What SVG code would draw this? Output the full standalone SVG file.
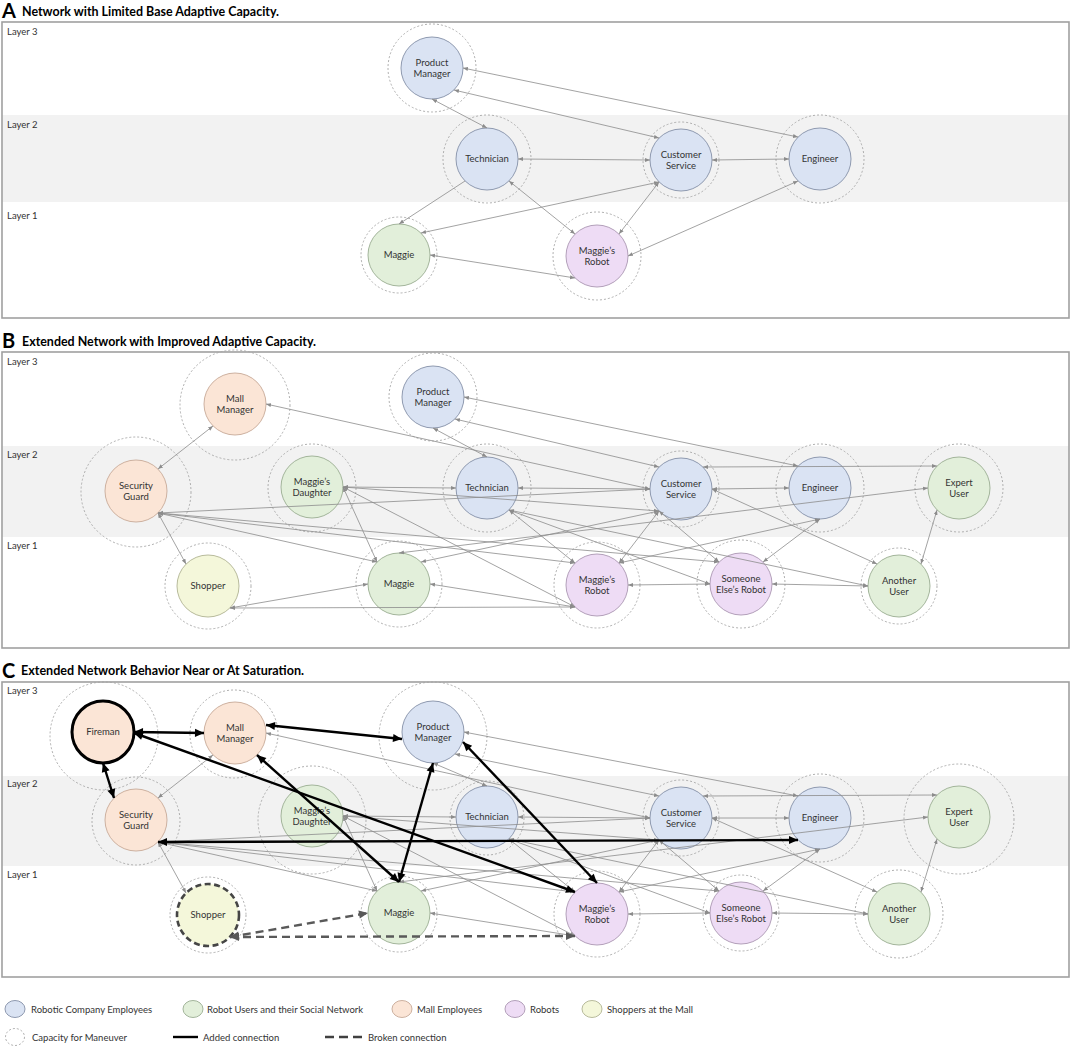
<svg xmlns="http://www.w3.org/2000/svg" width="1072" height="1048" viewBox="0 0 1072 1048">
<style>
.bg{fill:#fff}
.frame{fill:none;stroke:#a0a0a0;stroke-width:1.6}
.band{fill:#f2f2f2}
.cap{fill:none;stroke:#a6a6a6;stroke-width:0.9;stroke-dasharray:2 2}
.blue{fill:#dae3f3;stroke:#8f9ab0;stroke-width:1}
.green{fill:#e2efda;stroke:#a3b59b;stroke-width:1}
.orange{fill:#fbe5d6;stroke:#cdb1a0;stroke-width:1}
.purple{fill:#eedcf5;stroke:#b3a0ba;stroke-width:1}
.yellow{fill:#f4f7da;stroke:#b8bb9c;stroke-width:1}
.fire{stroke:#000;stroke-width:3}
.shop{stroke:#454545;stroke-width:2.6;stroke-dasharray:6 3.5}
text{font-family:Lato,"Open Sans","Liberation Sans",sans-serif;fill:#333}
.lbl{font-size:9.5px;text-anchor:middle}
.layer{font-size:9.5px}
.leg{font-size:9.5px}
.tl{font-size:20px;font-weight:bold;fill:#000}
.tt{font-size:13.5px;font-weight:bold;fill:#000}
.e{stroke:#8c8c8c;stroke-width:0.8;fill:none;marker-start:url(#a);marker-end:url(#a)}
.e1{stroke:#8c8c8c;stroke-width:0.8;fill:none;marker-end:url(#a)}
.b{stroke:#000;stroke-width:2.4;fill:none;marker-start:url(#ab);marker-end:url(#ab)}
.d{stroke:#595959;stroke-width:2.4;fill:none;stroke-dasharray:8 5;marker-start:url(#ad);marker-end:url(#ad)}
</style>
<defs>
<marker id="a" viewBox="0 0 10 10" refX="10" refY="5" markerWidth="5" markerHeight="5" markerUnits="userSpaceOnUse" orient="auto-start-reverse"><path d="M0,1 L10,5 L0,9 z" fill="#8c8c8c"/></marker>
<marker id="ab" viewBox="0 0 10 10" refX="10" refY="5" markerWidth="10" markerHeight="9" markerUnits="userSpaceOnUse" orient="auto-start-reverse"><path d="M0,0.5 L10,5 L0,9.5 z" fill="#000"/></marker>
<marker id="ad" viewBox="0 0 10 10" refX="10" refY="5" markerWidth="10" markerHeight="9" markerUnits="userSpaceOnUse" orient="auto-start-reverse"><path d="M0,0.5 L10,5 L0,9.5 z" fill="#595959"/></marker>
</defs>
<rect class="bg" x="0" y="0" width="1072" height="1048"/>

<!-- ===== Panel A ===== -->
<g id="panelA">
<text class="tl" x="2" y="18">A</text>
<text class="tt" x="22" y="16" textLength="257" lengthAdjust="spacingAndGlyphs">Network with Limited Base Adaptive Capacity.</text>
<rect class="band" x="2" y="115" width="1067" height="87"/>
<rect class="frame" x="2" y="22" width="1067" height="296"/>
<text class="layer" x="7" y="35">Layer 3</text>
<text class="layer" x="7" y="128">Layer 2</text>
<text class="layer" x="7" y="219">Layer 1</text>
</g>
<g id="A-nodes">
<g id="A-pm"><circle class="cap" cx="432" cy="68" r="44"/><circle class="blue" cx="432" cy="68" r="31"/><text class="lbl" x="432" y="65.5">Product</text><text class="lbl" x="432" y="77.2">Manager</text></g>
<g id="A-tech"><circle class="cap" cx="487" cy="159" r="44"/><circle class="blue" cx="487" cy="159" r="31"/><text class="lbl" x="487" y="162.3">Technician</text></g>
<g id="A-cs"><circle class="cap" cx="681" cy="160" r="38"/><circle class="blue" cx="681" cy="160" r="31"/><text class="lbl" x="681" y="157.5">Customer</text><text class="lbl" x="681" y="169.2">Service</text></g>
<g id="A-eng"><circle class="cap" cx="820" cy="159" r="44"/><circle class="blue" cx="820" cy="159" r="31"/><text class="lbl" x="820" y="162.3">Engineer</text></g>
<g id="A-maggie"><circle class="cap" cx="399" cy="255" r="38"/><circle class="green" cx="399" cy="255" r="31"/><text class="lbl" x="399" y="258.3">Maggie</text></g>
<g id="A-robot"><circle class="cap" cx="597" cy="256" r="44"/><circle class="purple" cx="597" cy="256" r="31"/><text class="lbl" x="597" y="253.5">Maggie’s</text><text class="lbl" x="597" y="265.2">Robot</text></g>
</g>
<g id="A-connectors">
<line class="e" x1="432" y1="99" x2="487" y2="128"/>
<line class="e" x1="463" y1="68" x2="798" y2="137"/>
<line class="e" x1="454" y1="90" x2="659" y2="138"/>
<line class="e" x1="518" y1="159" x2="650" y2="160"/>
<line class="e" x1="712" y1="160" x2="789" y2="159"/>
<line class="e1" x1="465" y1="181" x2="399" y2="224"/>
<line class="e" x1="509" y1="181" x2="575" y2="234"/>
<line class="e" x1="659" y1="182" x2="421" y2="233"/>
<line class="e" x1="659" y1="182" x2="619" y2="234"/>
<line class="e" x1="798" y1="181" x2="628" y2="256"/>
<line class="e" x1="430" y1="255" x2="575" y2="278"/>
</g>

<!-- ===== Panel B ===== -->
<g id="panelB">
<text class="tl" x="2" y="348">B</text>
<text class="tt" x="22" y="346" textLength="294" lengthAdjust="spacingAndGlyphs">Extended Network with Improved Adaptive Capacity.</text>
<rect class="band" x="2" y="446" width="1067" height="91"/>
<rect class="frame" x="2" y="352" width="1067" height="296"/>
<text class="layer" x="7" y="365">Layer 3</text>
<text class="layer" x="7" y="458">Layer 2</text>
<text class="layer" x="7" y="549">Layer 1</text>
</g>
<g id="B-nodes">
<g id="B-mm"><circle class="cap" cx="235" cy="405" r="55"/><circle class="orange" cx="235" cy="404" r="31"/><text class="lbl" x="235" y="401.5">Mall</text><text class="lbl" x="235" y="413.2">Manager</text></g>
<g id="B-pm"><circle class="cap" cx="433" cy="397" r="44"/><circle class="blue" cx="433" cy="397" r="31"/><text class="lbl" x="433" y="394.5">Product</text><text class="lbl" x="433" y="406.2">Manager</text></g>
<g id="B-sg"><circle class="cap" cx="136" cy="492" r="55"/><circle class="orange" cx="136" cy="491" r="31"/><text class="lbl" x="136" y="488.5">Security</text><text class="lbl" x="136" y="500.2">Guard</text></g>
<g id="B-md"><circle class="cap" cx="312" cy="488" r="44"/><circle class="green" cx="312" cy="487" r="31"/><text class="lbl" x="312" y="484.5">Maggie’s</text><text class="lbl" x="312" y="496.2">Daughter</text></g>
<g id="B-tech"><circle class="cap" cx="487" cy="488" r="44"/><circle class="blue" cx="487" cy="488" r="31"/><text class="lbl" x="487" y="491.3">Technician</text></g>
<g id="B-cs"><circle class="cap" cx="681" cy="489" r="38"/><circle class="blue" cx="681" cy="489" r="31"/><text class="lbl" x="681" y="486.5">Customer</text><text class="lbl" x="681" y="498.2">Service</text></g>
<g id="B-eng"><circle class="cap" cx="820" cy="488" r="44"/><circle class="blue" cx="820" cy="488" r="31"/><text class="lbl" x="820" y="491.3">Engineer</text></g>
<g id="B-eu"><circle class="cap" cx="959" cy="488" r="44"/><circle class="green" cx="959" cy="488" r="31"/><text class="lbl" x="959" y="485.5">Expert</text><text class="lbl" x="959" y="497.2">User</text></g>
<g id="B-shopper"><circle class="cap" cx="208" cy="586" r="43"/><circle class="yellow" cx="208" cy="586" r="31"/><text class="lbl" x="208" y="589.3">Shopper</text></g>
<g id="B-maggie"><circle class="cap" cx="399" cy="584" r="43"/><circle class="green" cx="399" cy="584" r="31"/><text class="lbl" x="399" y="587.3">Maggie</text></g>
<g id="B-robot"><circle class="cap" cx="597" cy="585" r="43"/><circle class="purple" cx="597" cy="585" r="31"/><text class="lbl" x="597" y="582.5">Maggie’s</text><text class="lbl" x="597" y="594.2">Robot</text></g>
<g id="B-ser"><circle class="cap" cx="741" cy="584" r="44"/><circle class="purple" cx="741" cy="584" r="31"/><text class="lbl" x="741" y="581.5">Someone</text><text class="lbl" x="741" y="593.2">Else’s Robot</text></g>
<g id="B-au"><circle class="cap" cx="899" cy="586" r="38"/><circle class="green" cx="899" cy="586" r="31"/><text class="lbl" x="899" y="583.5">Another</text><text class="lbl" x="899" y="595.2">User</text></g>
</g>
<g id="B-connectors">
<line class="e" x1="158" y1="469" x2="213" y2="426"/>
<line class="e" x1="158" y1="513" x2="186" y2="564"/>
<line class="e" x1="158" y1="513" x2="377" y2="562"/>
<line class="e" x1="158" y1="513" x2="575" y2="563"/>
<line class="e" x1="158" y1="513" x2="650" y2="489"/>
<line class="e" x1="158" y1="513" x2="719" y2="562"/>
<line class="e" x1="266" y1="404" x2="650" y2="489"/>
<line class="e" x1="433" y1="428" x2="487" y2="457"/>
<line class="e" x1="455" y1="419" x2="659" y2="467"/>
<line class="e" x1="464" y1="397" x2="798" y2="466"/>
<line class="e" x1="343" y1="487" x2="456" y2="488"/>
<line class="e" x1="343" y1="487" x2="659" y2="511"/>
<line class="e" x1="343" y1="487" x2="377" y2="562"/>
<line class="e" x1="343" y1="487" x2="575" y2="607"/>
<line class="e" x1="518" y1="488" x2="650" y2="489"/>
<line class="e" x1="509" y1="510" x2="575" y2="563"/>
<line class="e" x1="509" y1="510" x2="868" y2="586"/>
<line class="e" x1="509" y1="510" x2="710" y2="584"/>
<line class="e" x1="712" y1="489" x2="789" y2="488"/>
<line class="e" x1="703" y1="467" x2="937" y2="466"/>
<line class="e" x1="659" y1="511" x2="421" y2="562"/>
<line class="e" x1="659" y1="511" x2="619" y2="563"/>
<line class="e" x1="659" y1="511" x2="719" y2="562"/>
<line class="e" x1="712" y1="489" x2="877" y2="564"/>
<line class="e" x1="820" y1="519" x2="619" y2="563"/>
<line class="e" x1="820" y1="519" x2="763" y2="562"/>
<line class="e" x1="928" y1="488" x2="399" y2="553"/>
<line class="e" x1="937" y1="510" x2="921" y2="564"/>
<line class="e" x1="230" y1="608" x2="575" y2="607"/>
<line class="e" x1="230" y1="608" x2="368" y2="584"/>
<line class="e" x1="430" y1="584" x2="575" y2="607"/>
<line class="e" x1="628" y1="585" x2="710" y2="584"/>
<line class="e" x1="772" y1="584" x2="868" y2="586"/>
</g>

<!-- ===== Panel C ===== -->
<g id="panelC">
<text class="tl" x="2" y="678">C</text>
<text class="tt" x="21" y="675" textLength="283" lengthAdjust="spacingAndGlyphs">Extended Network Behavior Near or At Saturation.</text>
<rect class="band" x="2" y="776" width="1067" height="90"/>
<rect class="frame" x="2" y="682" width="1067" height="295"/>
<text class="layer" x="7" y="694">Layer 3</text>
<text class="layer" x="7" y="787">Layer 2</text>
<text class="layer" x="7" y="878">Layer 1</text>
</g>
<g id="C-nodes">
<g id="C-fireman"><circle class="cap" cx="104" cy="736" r="54"/><circle class="orange fire" cx="103" cy="732" r="31"/><text class="lbl" x="103" y="735.3">Fireman</text></g>
<g id="C-mm"><circle class="cap" cx="234" cy="734" r="44"/><circle class="orange" cx="235" cy="733" r="31"/><text class="lbl" x="235" y="730.5">Mall</text><text class="lbl" x="235" y="742.2">Manager</text></g>
<g id="C-pm"><circle class="cap" cx="433" cy="736" r="54"/><circle class="blue" cx="433" cy="732" r="31"/><text class="lbl" x="433" y="729.5">Product</text><text class="lbl" x="433" y="741.2">Manager</text></g>
<g id="C-sg"><circle class="cap" cx="136" cy="821" r="44"/><circle class="orange" cx="136" cy="820" r="31"/><text class="lbl" x="136" y="817.5">Security</text><text class="lbl" x="136" y="829.2">Guard</text></g>
<g id="C-md"><circle class="cap" cx="312" cy="820" r="54"/><circle class="green" cx="312" cy="816" r="31"/><text class="lbl" x="312" y="813.5">Maggie’s</text><text class="lbl" x="312" y="825.2">Daughter</text></g>
<g id="C-tech"><circle class="cap" cx="487" cy="818" r="37"/><circle class="blue" cx="487" cy="817" r="31"/><text class="lbl" x="487" y="820.3">Technician</text></g>
<g id="C-cs"><circle class="cap" cx="681" cy="818" r="38"/><circle class="blue" cx="681" cy="818" r="31"/><text class="lbl" x="681" y="815.5">Customer</text><text class="lbl" x="681" y="827.2">Service</text></g>
<g id="C-eng"><circle class="cap" cx="820" cy="818" r="44"/><circle class="blue" cx="820" cy="818" r="31"/><text class="lbl" x="820" y="821.3">Engineer</text></g>
<g id="C-eu"><circle class="cap" cx="959" cy="819" r="55"/><circle class="green" cx="959" cy="817" r="31"/><text class="lbl" x="959" y="814.5">Expert</text><text class="lbl" x="959" y="826.2">User</text></g>
<g id="C-shopper"><circle class="cap" cx="208" cy="915" r="38"/><circle class="yellow shop" cx="208" cy="915" r="31"/><text class="lbl" x="208" y="918.3">Shopper</text></g>
<g id="C-maggie"><circle class="cap" cx="399" cy="914" r="38"/><circle class="green" cx="399" cy="913" r="31"/><text class="lbl" x="399" y="916.3">Maggie</text></g>
<g id="C-robot"><circle class="cap" cx="597" cy="914" r="43"/><circle class="purple" cx="597" cy="914" r="31"/><text class="lbl" x="597" y="911.5">Maggie’s</text><text class="lbl" x="597" y="923.2">Robot</text></g>
<g id="C-ser"><circle class="cap" cx="741" cy="913" r="38"/><circle class="purple" cx="741" cy="913" r="31"/><text class="lbl" x="741" y="910.5">Someone</text><text class="lbl" x="741" y="922.2">Else’s Robot</text></g>
<g id="C-au"><circle class="cap" cx="899" cy="914" r="44"/><circle class="green" cx="899" cy="914" r="31"/><text class="lbl" x="899" y="911.5">Another</text><text class="lbl" x="899" y="923.2">User</text></g>
</g>
<g id="C-connectors">
<line class="e" x1="158" y1="798" x2="213" y2="755"/>
<line class="e" x1="158" y1="842" x2="186" y2="893"/>
<line class="e" x1="158" y1="842" x2="377" y2="891"/>
<line class="e" x1="158" y1="842" x2="575" y2="892"/>
<line class="e" x1="158" y1="842" x2="650" y2="818"/>
<line class="e" x1="158" y1="842" x2="719" y2="891"/>
<line class="e" x1="266" y1="733" x2="650" y2="818"/>
<line class="e" x1="433" y1="763" x2="487" y2="786"/>
<line class="e" x1="455" y1="754" x2="659" y2="796"/>
<line class="e" x1="464" y1="732" x2="798" y2="796"/>
<line class="e" x1="343" y1="816" x2="456" y2="817"/>
<line class="e" x1="343" y1="816" x2="659" y2="840"/>
<line class="e" x1="343" y1="816" x2="377" y2="891"/>
<line class="e" x1="343" y1="816" x2="575" y2="936"/>
<line class="e" x1="518" y1="817" x2="650" y2="818"/>
<line class="e" x1="509" y1="839" x2="575" y2="892"/>
<line class="e" x1="509" y1="839" x2="868" y2="914"/>
<line class="e" x1="509" y1="839" x2="710" y2="913"/>
<line class="e" x1="712" y1="818" x2="789" y2="818"/>
<line class="e" x1="703" y1="796" x2="937" y2="795"/>
<line class="e" x1="659" y1="840" x2="421" y2="891"/>
<line class="e" x1="659" y1="840" x2="619" y2="892"/>
<line class="e" x1="659" y1="840" x2="719" y2="891"/>
<line class="e" x1="712" y1="818" x2="877" y2="892"/>
<line class="e" x1="820" y1="849" x2="619" y2="892"/>
<line class="e" x1="820" y1="849" x2="763" y2="891"/>
<line class="e" x1="928" y1="817" x2="399" y2="882"/>
<line class="e" x1="937" y1="839" x2="921" y2="892"/>
<line class="e" x1="430" y1="913" x2="575" y2="936"/>
<line class="e" x1="628" y1="914" x2="710" y2="913"/>
<line class="e" x1="772" y1="913" x2="868" y2="914"/>
<line class="b" x1="134" y1="732" x2="204" y2="733"/>
<line class="b" x1="103" y1="763" x2="114" y2="798"/>
<line class="b" x1="134" y1="733" x2="575" y2="892"/>
<line class="b" x1="266" y1="725" x2="402" y2="739"/>
<line class="b" x1="257" y1="755" x2="399" y2="882"/>
<line class="b" x1="433" y1="763" x2="399" y2="882"/>
<line class="b" x1="463" y1="742" x2="597" y2="883"/>
<line class="b" x1="158" y1="842" x2="798" y2="840"/>
<line class="d" x1="230" y1="937" x2="368" y2="913"/>
<line class="d" x1="230" y1="937" x2="575" y2="936"/>
</g>

<!-- ===== Legend ===== -->
<g id="legend">
<ellipse class="blue" cx="15" cy="1009" rx="10" ry="8.5"/>
<text class="leg" x="31" y="1012.5">Robotic Company Employees</text>
<ellipse class="green" cx="193" cy="1009" rx="10" ry="8.5"/>
<text class="leg" x="207" y="1012.5">Robot Users and their Social Network</text>
<ellipse class="orange" cx="402" cy="1009" rx="10" ry="8.5"/>
<text class="leg" x="417" y="1012.5">Mall Employees</text>
<ellipse class="purple" cx="515" cy="1009" rx="10" ry="8.5"/>
<text class="leg" x="530" y="1012.5">Robots</text>
<ellipse class="yellow" cx="592" cy="1009" rx="10" ry="8.5"/>
<text class="leg" x="607" y="1012.5">Shoppers at the Mall</text>
<ellipse class="cap" cx="15" cy="1037" rx="9.5" ry="8.5"/>
<text class="leg" x="32" y="1040.5">Capacity for Maneuver</text>
<line x1="173" y1="1037" x2="198" y2="1037" stroke="#000" stroke-width="2.4"/>
<text class="leg" x="203" y="1040.5">Added connection</text>
<line x1="325" y1="1037" x2="362" y2="1037" stroke="#404040" stroke-width="2.4" stroke-dasharray="9 5"/>
<text class="leg" x="368" y="1040.5">Broken connection</text>
</g>
</svg>
